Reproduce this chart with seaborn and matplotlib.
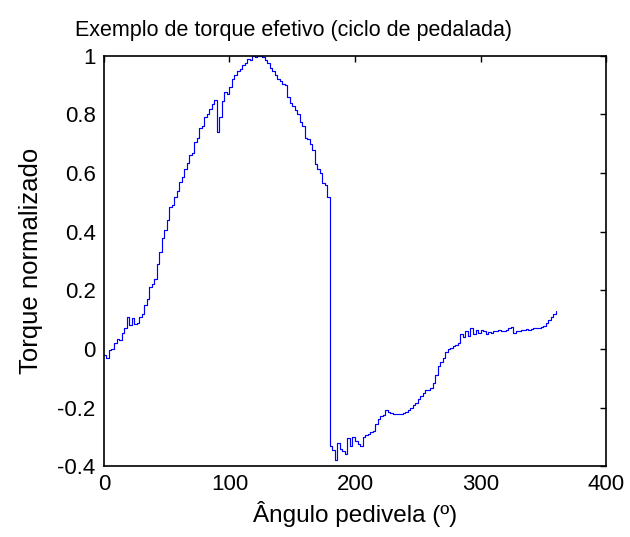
import matplotlib
matplotlib.use("Agg")
import matplotlib.pyplot as plt
import seaborn as sns
import pandas as pd

# angulo do pedal (graus), passo de 2 graus
angulo = list(range(0, 362, 2))

# torque normalizado
torque = [
    -0.02, -0.03, -0.005, 0.0, 0.02, 0.035, 0.03, 0.055, 0.07, 0.11,
    0.08, 0.105, 0.085, 0.09, 0.11, 0.12, 0.15, 0.17, 0.21, 0.22,
    0.24, 0.29, 0.33, 0.38, 0.405, 0.44, 0.485, 0.49, 0.52, 0.54,
    0.57, 0.585, 0.615, 0.635, 0.66, 0.67, 0.705, 0.72, 0.755, 0.76,
    0.79, 0.80, 0.82, 0.835, 0.85, 0.74, 0.79, 0.845, 0.875, 0.87,
    0.895, 0.92, 0.935, 0.95, 0.955, 0.97, 0.975, 0.99, 0.985, 1.0,
    0.995, 1.0, 1.0, 0.995, 0.985, 0.975, 0.96, 0.95, 0.935, 0.92,
    0.915, 0.905, 0.90, 0.86, 0.84, 0.83, 0.815, 0.80, 0.775, 0.76,
    0.72, 0.715, 0.70, 0.68, 0.63, 0.615, 0.60, 0.565, 0.56, 0.52,
    -0.33, -0.345, -0.38, -0.32, -0.34, -0.35, -0.36, -0.305, -0.33, -0.30,
    -0.315, -0.325, -0.33, -0.30, -0.295, -0.29, -0.285, -0.28, -0.255, -0.24,
    -0.23, -0.225, -0.21, -0.215, -0.22, -0.222, -0.222, -0.222, -0.221, -0.22,
    -0.215, -0.21, -0.20, -0.19, -0.185, -0.17, -0.16, -0.15, -0.14, -0.14,
    -0.135, -0.115, -0.09, -0.06, -0.045, -0.03, -0.01, 0.0, 0.002, 0.01,
    0.015, 0.02, 0.05, 0.04, 0.06, 0.045, 0.07, 0.05, 0.065, 0.055,
    0.065, 0.06, 0.05, 0.058, 0.055, 0.062, 0.06, 0.064, 0.062, 0.06,
    0.065, 0.07, 0.075, 0.055, 0.06, 0.062, 0.064, 0.065, 0.067, 0.066,
    0.068, 0.07, 0.07, 0.072, 0.075, 0.077, 0.09, 0.10, 0.11, 0.12,
    0.13,
]

x_ticks = [0, 100, 200, 300, 400]
y_ticks = [-0.4, -0.2, 0, 0.2, 0.4, 0.6, 0.8, 1]

df = pd.DataFrame({'Angulo': angulo, 'Torque': torque})

sns.set_style('white')
plt.rcParams['font.family'] = ['Liberation Sans', 'DejaVu Sans']
plt.rcParams['axes.unicode_minus'] = False
plt.rcParams['text.color'] = 'black'
plt.rcParams['axes.labelcolor'] = 'black'

fig = plt.figure(figsize=(6.3, 5.37), dpi=100)
ax = fig.add_axes([0.165, 0.132, 0.797, 0.764])

sns.lineplot(data=df, x='Angulo', y='Torque', ax=ax, color='#0000FF',
             linewidth=0.85, drawstyle='steps-post', estimator=None, sort=False)

ax.set_xlim(0, 400)
ax.set_ylim(-0.4, 1)
ax.set_xticks(x_ticks)
ax.set_yticks(y_ticks)
ax.set_yticklabels([f'{v:g}' for v in y_ticks])

# estilo matlab: ticks para dentro nos quatro lados
ax.tick_params(direction='in', length=4, width=1, top=True, right=True,
               labelsize=16, colors='black', pad=6)
for s in ax.spines.values():
    s.set_color('black')
    s.set_linewidth(1.2)

ax.set_title('Exemplo de torque efetivo (ciclo de pedalada)', fontsize=15.5,
             x=0.377, pad=14, color='black')
ax.set_xlabel('Ângulo pedivela (º)', fontsize=17.5, labelpad=4)
ax.set_ylabel('Torque normalizado', fontsize=18.5, labelpad=10)

fig.savefig('out.png', dpi=100)
